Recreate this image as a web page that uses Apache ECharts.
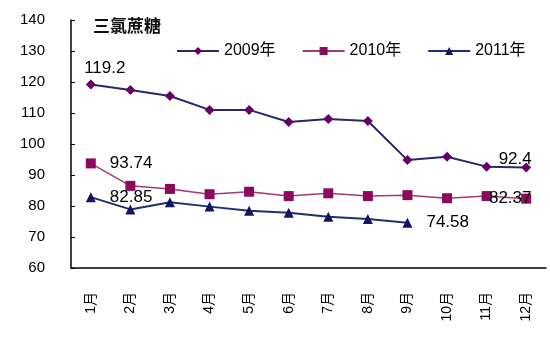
<!DOCTYPE html>
<html>
<head>
<meta charset="utf-8">
<script src="https://cdn.jsdelivr.net/npm/echarts@6/dist/echarts.min.js"></script>
<style>
  html, body { margin: 0; padding: 0; background: #fff; }
  #chart { width: 550px; height: 340px; }
</style>
</head>
<body>
<div id="chart"></div>
<script>
// Monthly sucralose prices, 2009–2011
const months = ['1月', '2月', '3月', '4月', '5月', '6月', '7月', '8月', '9月', '10月', '11月', '12月'];
const price2009 = [119.2, 117.4, 115.5, 111.0, 111.0, 107.1, 108.1, 107.4, 94.8, 95.9, 92.7, 92.4];
const price2010 = [93.74, 86.5, 85.5, 83.8, 84.6, 83.2, 84.1, 83.2, 83.5, 82.5, 83.2, 82.37];
const price2011 = [82.85, 78.9, 81.2, 79.8, 78.5, 77.8, 76.5, 75.8, 74.58];
const yTicks = [60, 70, 80, 90, 100, 110, 120, 130, 140];

const FONT = '"Liberation Sans", Arial, "Noto Sans CJK SC", sans-serif';
const labelText = { color: '#000', fontSize: 17, fontFamily: FONT };

// Attach value labels to selected points
function withLabels(values, labelled) {
  return values.map((v, i) => {
    const cfg = labelled[i];
    if (!cfg) return v;
    return { value: v, label: Object.assign({ show: true, formatter: String(v) }, labelText, cfg) };
  });
}

const chart = echarts.init(document.getElementById('chart'), null, { renderer: 'canvas' });
chart.setOption({
  backgroundColor: '#fff',
  animation: false,
  title: {
    text: '三氯蔗糖',
    left: 88,
    top: 12,
    textStyle: { fontSize: 17, fontWeight: 'bold', color: '#111', fontFamily: '"Noto Sans CJK SC", sans-serif' }
  },
  legend: {
    left: 171,
    top: 38,
    itemWidth: 42,
    itemHeight: 10,
    itemGap: 26,
    textStyle: { fontSize: 16, color: '#000', fontFamily: FONT },
    data: ['2009年', '2010年', '2011年']
  },
  grid: { left: 71, right: 4, top: 20, bottom: 72, containLabel: false },
  xAxis: {
    type: 'category',
    data: months,
    boundaryGap: true,
    axisLine: { lineStyle: { color: '#000', width: 1.5 } },
    axisTick: { inside: true, length: 5, lineStyle: { color: '#000' } },
    axisLabel: { rotate: 90, margin: 24, fontSize: 14, color: '#000', fontFamily: FONT },
    splitLine: { show: false }
  },
  yAxis: {
    type: 'value',
    min: yTicks[0],
    max: yTicks[yTicks.length - 1],
    interval: 10,
    axisLine: { show: true, lineStyle: { color: '#000', width: 1.5 } },
    axisTick: { show: true, inside: true, length: 4, lineStyle: { color: '#000' } },
    axisLabel: { fontSize: 15, color: '#000', margin: 26, fontFamily: FONT },
    splitLine: { show: false }
  },
  series: [
    {
      name: '2009年',
      type: 'line',
      symbol: 'diamond',
      symbolSize: 10,
      lineStyle: { color: '#27276b', width: 2 },
      itemStyle: { color: '#660066' },
      data: withLabels(price2009, {
        0: { position: 'top', distance: 3, offset: [14, 0] },
        11: { position: 'top', distance: 0, offset: [-11, 5] }
      }),
      z: 3
    },
    {
      name: '2010年',
      type: 'line',
      symbol: 'rect',
      symbolSize: 10,
      lineStyle: { color: '#a33a78', width: 1.5 },
      itemStyle: { color: '#8c0a5c' },
      data: withLabels(price2010, {
        0: { position: 'right', distance: 14 },
        11: { position: 'inside', offset: [-16, 0] }
      }),
      z: 2
    },
    {
      name: '2011年',
      type: 'line',
      symbol: 'triangle',
      symbolSize: 10,
      lineStyle: { color: '#1f3070', width: 2 },
      itemStyle: { color: '#14145e' },
      data: withLabels(price2011, {
        0: { position: 'right', distance: 14 },
        8: { position: 'right', distance: 14 }
      }),
      z: 2
    }
  ]
});
</script>
</body>
</html>
